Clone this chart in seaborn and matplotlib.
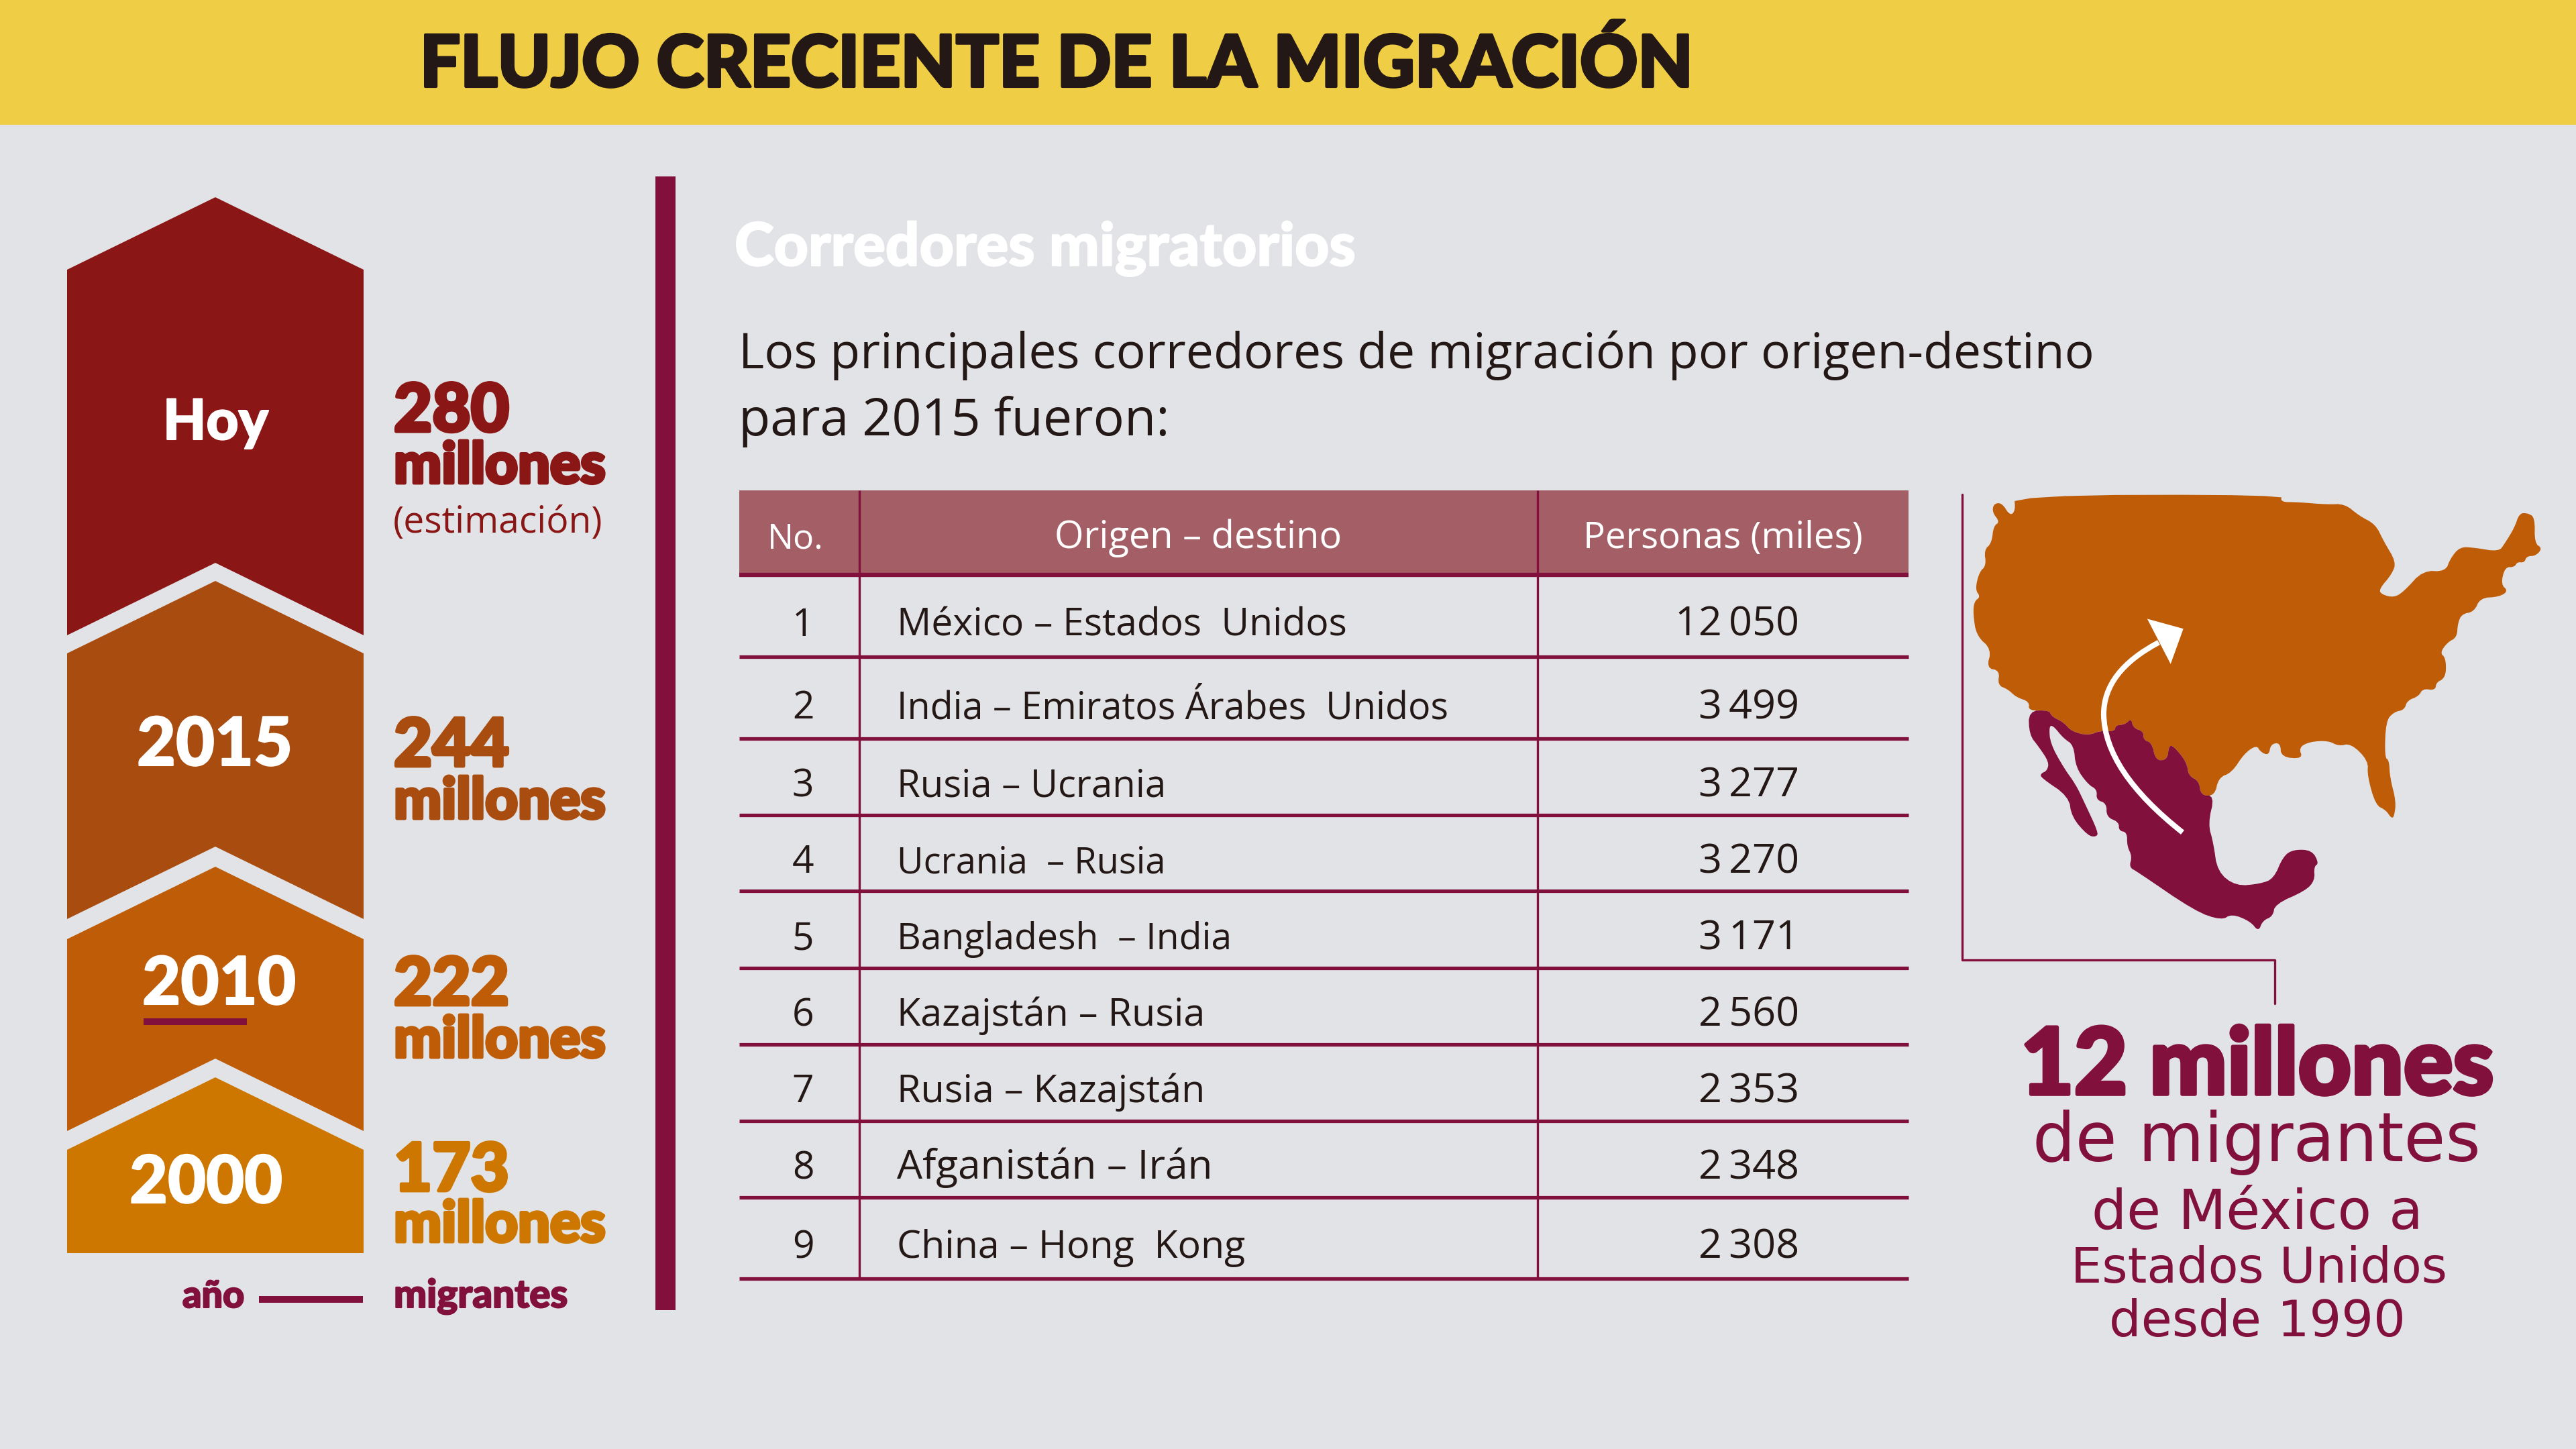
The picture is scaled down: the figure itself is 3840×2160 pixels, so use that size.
import numpy as np
import pandas as pd
import seaborn as sns
from matplotlib import pyplot as plt
from matplotlib import patheffects as pe
from matplotlib.patches import Polygon, Rectangle, PathPatch
from matplotlib.path import Path

TITLE = "FLUJO CRECIENTE DE LA MIGRACIÓN"
SUBTITLE = "Corredores migratorios"
INTRO = ["Los principales corredores de migración por origen-destino",
         "para 2015 fueron:"]

periods = ["Hoy", "2015", "2010", "2000"]
migrants = [280, 244, 222, 173]

table_head = ["No.", "Origen – destino", "Personas (miles)"]
corridors = ["México – Estados  Unidos", "India – Emiratos Árabes  Unidos",
             "Rusia – Ucrania", "Ucrania  – Rusia", "Bangladesh  – India",
             "Kazajstán – Rusia", "Rusia – Kazajstán", "Afganistán – Irán",
             "China – Hong  Kong"]
persons = [12050, 3499, 3277, 3270, 3171, 2560, 2353, 2348, 2308]

callout = ["12 millones", "de migrantes", "de México a", "Estados Unidos", "desde 1990"]

# map outlines (crop coordinates)
usa_x = [200, 852, 849, 890, 960, 1005, 1040, 1080, 1100, 1130, 1120, 1088, 1095, 1125, 1150, 1195, 1250, 1262, 1285, 1320,
         1380, 1395, 1418, 1430, 1450, 1468, 1467, 1486, 1470, 1448, 1442, 1425, 1418, 1395, 1385, 1403, 1380, 1335, 1320, 1290,
         1280, 1278, 1255, 1237, 1250, 1252, 1245, 1228, 1225, 1195, 1185, 1157, 1150, 1125, 1105, 1102, 1113, 1115, 1130, 1125,
         1118, 1105, 1080, 1060, 1062, 1020, 990, 965, 920, 893, 903, 850, 848, 825, 820, 800, 790, 760, 730, 698,
         688, 655, 650, 625, 620, 590, 577, 573, 545, 535, 515, 515, 490, 485, 470, 447, 445, 410, 380, 340,
         320, 292, 285, 235, 237, 205, 185, 160, 165, 133, 145, 108, 100, 103, 118, 105, 115, 132, 127, 145,
         150, 165, 147, 150, 170, 190, 203]
usa_y = [75, 73, 95, 95, 102, 100, 135, 160, 210, 270, 305, 350, 365, 374, 355, 295, 298, 260, 226, 228,
         240, 215, 170, 128, 127, 140, 215, 230, 252, 253, 272, 270, 285, 285, 335, 355, 372, 375, 415, 422,
         450, 490, 505, 535, 550, 590, 612, 622, 645, 640, 662, 675, 702, 708, 735, 840, 850, 900, 970, 1015,
         1018, 995, 980, 895, 850, 800, 808, 792, 795, 812, 845, 840, 798, 802, 835, 825, 805, 830, 885, 900,
         953, 952, 910, 895, 855, 810, 805, 848, 850, 798, 790, 765, 755, 727, 745, 747, 765, 763, 777, 765,
         738, 722, 703, 705, 678, 665, 642, 630, 587, 580, 525, 485, 420, 385, 372, 350, 300, 280, 235, 215,
         165, 153, 125, 100, 97, 135, 120]
mex_x = [235, 285, 292, 320, 340, 380, 410, 445, 447, 470, 485, 490, 515, 515, 535, 545, 573, 577, 590, 620,
         625, 650, 655, 688, 672, 685, 695, 740, 800, 832, 855, 880, 925, 942, 930, 932, 910, 835, 830, 805,
         795, 775, 730, 705, 640, 500, 480, 487, 475, 475, 455, 455, 425, 425, 400, 402, 380, 350, 345, 320,
         295, 285, 288, 320, 350, 370, 405, 400, 380, 340, 333, 265, 265, 280, 285, 260, 237]
mex_y = [705, 703, 722, 738, 765, 777, 763, 765, 747, 745, 727, 755, 765, 790, 798, 850, 848, 805, 810, 855,
         895, 910, 952, 953, 1035, 1090, 1175, 1217, 1210, 1195, 1130, 1110, 1112, 1150, 1160, 1200, 1230, 1270, 1305, 1318,
         1350, 1320, 1298, 1317, 1290, 1175, 1162, 1130, 1100, 1060, 1055, 1030, 1015, 975, 965, 935, 920, 870, 805, 785,
         748, 750, 800, 870, 920, 970, 1060, 1073, 1070, 1015, 955, 900, 888, 880, 855, 810, 775]

BG = "#E2E3E6"
YELLOW = "#EFCE46"
MAROON = "#82103C"
INK = "#231815"
HEAD = "#A45E66"
ORANGE = "#BE5C07"
shades = ["#8A1616", "#A94C0F", "#BE5C07", "#CD7700"]

sans = "Open Sans"
heavy = "Lato"

sns.set_theme(style="white")
plt.rcParams["font.family"] = [sans, "DejaVu Sans"]

fig = plt.figure(figsize=(38.4, 21.6), dpi=100, facecolor=BG)
ax = fig.add_axes([0, 0, 1, 1], facecolor=BG)
ax.set_xlim(0, 3840)
ax.set_ylim(2160, 0)
ax.axis("off")
renderer = fig.canvas.get_renderer()


def put(x, y, s, size=40, width=None, color=INK, family=sans, weight="normal", stroke=0, ha="left", zorder=6):
    t = ax.text(x, y, s, fontsize=size, color=color, family=[family, "DejaVu Sans"], ha=ha, va="baseline",
                fontweight=weight, zorder=zorder)
    if width is not None:
        # scale the font so the string spans the measured width
        t.set_fontsize(size * width / t.get_window_extent(renderer).width)
    if stroke:
        t.set_path_effects([pe.withStroke(linewidth=stroke, foreground=color)])
    return t


def smooth(px, py, rounds=2):
    pts = np.column_stack([px, py]).astype(float)
    for _ in range(rounds):
        nxt = np.roll(pts, -1, axis=0)
        pts = np.column_stack([0.75 * pts + 0.25 * nxt, 0.25 * pts + 0.75 * nxt]).reshape(-1, 2)
    return pts


def crop(pts):
    pts = np.asarray(pts, dtype=float)
    return np.column_stack([2880 + pts[:, 0] / 1.6333, 700 + pts[:, 1] / 1.96])


# header band and divider
ax.add_patch(Rectangle((0, 0), 3840, 186, color=YELLOW, lw=0))
ax.add_patch(Rectangle((977, 263), 30, 1690, color=MAROON, lw=0))
put(626, 129, TITLE, size=80, width=1899, family=heavy, weight=900, stroke=3)
put(1095, 396, SUBTITLE, size=60, width=926, color="white", family=heavy, weight=900, stroke=1.5)
put(1101, 549, INTRO[0], size=50, width=2019)
put(1101, 649, INTRO[1], size=50, width=643)

# arrows stacked from the newest period down
left, right, mid = 100, 542, 321
apex = [294, 866, 1292, 1606]
shoulder = [402, 974, 1400, 1714]
notch = [839, 1262, 1578, None]
corner = [947, 1370, 1686, 1868]
for i, c in enumerate(shades):
    pts = [(left, shoulder[i]), (mid, apex[i]), (right, shoulder[i]), (right, corner[i])]
    if notch[i] is not None:
        pts.append((mid, notch[i]))
    pts.append((left, corner[i]))
    ax.add_patch(Polygon(pts, closed=True, color=c, lw=0))

label_x = [243, 204, 212, 193]
label_w = [157, 232, 229, 228]
label_y = [655, 1141, 1497, 1793]
value_y = [643, 1142, 1498, 1775]
unit_y = [720, 1220, 1576, 1851]
for i, c in enumerate(shades):
    put(label_x[i], label_y[i], periods[i], size=66, width=label_w[i], color="white",
        family=heavy, weight=900, stroke=1.5)
    put(587, value_y[i], str(migrants[i]), size=70, width=172, color=c, family=heavy, weight=900, stroke=3.5)
    put(587, unit_y[i], "millones", size=60, width=316, color=c, family=heavy, weight=900, stroke=3.5)
put(586, 794, "(estimación)", size=40, width=312, color=shades[0], family=sans)
ax.add_patch(Rectangle((214, 1518), 154, 10, color=MAROON, lw=0, zorder=5))
ax.add_patch(Rectangle((386, 1932), 155, 10, color=MAROON, lw=0))
put(272, 1949, "año", size=40, width=92, color=MAROON, family=heavy, weight=900, stroke=1.5)
put(587, 1949, "migrantes", size=40, width=259, color=MAROON, family=heavy, weight=900, stroke=1.5)

# table
tx0, tx1, col1, col2 = 1102, 2845, 1281, 2292
ax.add_patch(Rectangle((tx0, 731), tx1 - tx0, 123, color=HEAD, lw=0))
rule_y = [979, 1101, 1215, 1328, 1443, 1557, 1671, 1785, 1906]
base_y = [948, 1071, 1188, 1301, 1415, 1529, 1643, 1757, 1875]
text_w = [671, 820, 400, 400, 499, 458, 458, 470, 518]

rules = pd.DataFrame(
    [{"x": tx0, "y": y, "rule": i} for i, y in enumerate(rule_y)]
    + [{"x": tx1, "y": y, "rule": i} for i, y in enumerate(rule_y)]
)
sns.lineplot(data=rules, x="x", y="y", units="rule", estimator=None, sort=False, color=MAROON,
             linewidth=3.8, legend=False, ax=ax, solid_capstyle="butt", zorder=3)
header_rule = pd.DataFrame({"x": [tx0, tx1], "y": [857, 857]})
sns.lineplot(data=header_rule, x="x", y="y", color=MAROON, linewidth=4.6, legend=False, ax=ax,
             estimator=None, sort=False, solid_capstyle="butt", zorder=3)
columns = pd.DataFrame({"x": [col1, col1, col2, col2], "y": [731, 1908, 731, 1908], "rule": [0, 0, 1, 1]})
sns.lineplot(data=columns, x="x", y="y", units="rule", estimator=None, sort=False, color=MAROON,
             linewidth=2.4, legend=False, ax=ax, solid_capstyle="butt", zorder=4)

put(1144, 817, table_head[0], size=40, width=84, color="white")
put(1572, 817, table_head[1], size=40, width=428, color="white")
put(2360, 817, table_head[2], size=40, width=416, color="white")
for i, name in enumerate(corridors):
    put(1197, base_y[i], str(i + 1), size=41, ha="center")
    put(1337, base_y[i], name, size=40, width=text_w[i])
    put(2682, base_y[i], f"{persons[i]:,}".replace(",", "\u2009"), size=44, ha="right")

# map
ax.add_patch(Polygon(crop(smooth(usa_x, usa_y)), closed=True, color=ORANGE, lw=0, zorder=2))
ax.add_patch(Polygon(crop(smooth(mex_x, mex_y)), closed=True, color=MAROON, lw=0, zorder=2))
arrow_pts = crop([(610, 1060), (420, 880), (418, 715), (418, 590), (552, 505)])
arrow = Path(arrow_pts, [Path.MOVETO, Path.CURVE3, Path.CURVE3, Path.CURVE3, Path.CURVE3])
ax.add_patch(PathPatch(arrow, fc="none", ec="white", lw=5.8, capstyle="butt", zorder=3))
ax.add_patch(Polygon(crop([(524, 436), (612, 465), (581, 568)]), closed=True, color="white", lw=0, zorder=3))
bracket = pd.DataFrame({"x": [2925, 2925, 3391, 3391], "y": [737, 1431, 1431, 1496]})
sns.lineplot(data=bracket, x="x", y="y", estimator=None, sort=False, color=MAROON, linewidth=2.4,
             legend=False, ax=ax)

# callout under the map
put(3012, 1631, callout[0], size=90, width=706, color=MAROON, family=heavy, weight=900, stroke=4)
put(3030, 1731, callout[1], size=60, width=670, color=MAROON, family="DejaVu Sans")
put(3118, 1832, callout[2], size=50, width=495, color=MAROON, family="DejaVu Sans")
put(3087, 1912, callout[3], size=50, width=561, color=MAROON, family="DejaVu Sans")
put(3144, 1992, callout[4], size=50, width=443, color=MAROON, family="DejaVu Sans")

ax.set_xlim(0, 3840)
ax.set_ylim(2160, 0)
sns.despine(ax=ax, left=True, bottom=True)
fig.savefig("out.png", dpi=100, facecolor=BG)
